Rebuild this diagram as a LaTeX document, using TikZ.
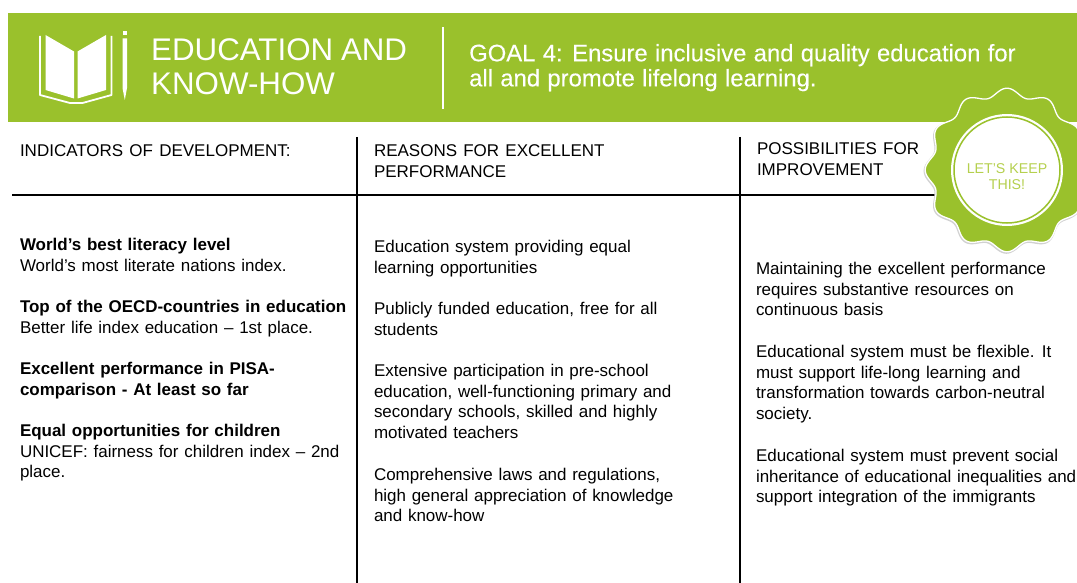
\documentclass[tikz,border=0pt]{standalone}
\usepackage{fontspec}
\setmainfont{Liberation Sans}
\newfontfamily\goalfont[FakeBold=0.25,WordSpace=1.1]{Liberation Sans}
\newfontfamily\titlefont[WordSpace=0.9]{Liberation Sans}
\definecolor{leaf}{HTML}{9AC12C}
\definecolor{leaftext}{HTML}{B5D04E}
\newcommand{\parafont}{\fontsize{16.97}{20.7}\selectfont\spaceskip 5.75pt\relax}
\newcommand{\headfont}{\fontsize{17}{20.7}\selectfont\spaceskip 6.2pt\relax}
\tikzset{
 px/.style={x=1pt,y=-1pt},
 para/.style={anchor=north west,inner sep=0pt,outer sep=0pt,align=left,text=black,font=\parafont},
 head/.style={para,font=\headfont},
 titleline/.style={anchor=base west,inner sep=0pt,text=white,font=\titlefont\fontsize{31.3}{34}\selectfont},
 goalline/.style={anchor=base west,inner sep=0pt,text=white,font=\goalfont\fontsize{23.85}{25}\selectfont},
 rule/.style={draw=black,line width=1.5pt},
 whitefill/.style={fill=white,draw=none},
}
\newcommand{\bld}[1]{{\bfseries #1}}
\newcommand{\badgeplot}{plot[domain=0:360,samples=241,smooth,variable=\t] ({1007+(77.8+4*cos(12*\t))*cos(\t)},{170+(77.8+4*cos(12*\t))*sin(\t)}) -- cycle}
\begin{document}
\begin{tikzpicture}[px]
\useasboundingbox (0,0) rectangle (1077,583);
\fill[white] (0,0) rectangle (1077,583);
% banner
\fill[leaf] (8,13) rectangle (1077,122);
% book icon
\fill[whitefill] (45.5,35) -- (74,51.5) -- (74,98.5) -- (45.5,90) -- cycle;
\fill[whitefill] (77.5,51.5) -- (106,35) -- (106,90) -- (77.5,98.5) -- cycle;
\draw[white,line width=1.8pt,line join=round] (40,36) -- (40,95) -- (70,103) -- (82.5,103) -- (111.5,95) -- (111.5,36);
\fill[whitefill] (122.5,31) rectangle (127,35);
\fill[whitefill] (122.5,38.5) -- (127,38.5) -- (127,88) -- (124.8,100) -- (122.5,88) -- cycle;
% titles
\node[titleline] (t1) at (151,61) {EDUCATION AND};
\node[titleline] (t2) at (151,95) {KNOW-HOW};
\coordinate (d1) at (443,27); \coordinate (d2) at (443,109);
\draw[white,line width=2.4pt] (d1) -- (d2);
\node[goalline] (g1) at (469,61.3) {GOAL 4: Ensure inclusive and quality education for};
\node[goalline] (g2) at (469,86.3) {all and promote lifelong learning.};
% table rules
\coordinate (h1) at (12,195); \coordinate (h2) at (940,195);
\coordinate (v1a) at (357,137); \coordinate (v1b) at (357,583);
\coordinate (v2a) at (740,137); \coordinate (v2b) at (740,583);
\draw[rule] (h1) -- (h2);
\draw[rule] (v1a) -- (v1b);
\draw[rule] (v2a) -- (v2b);
% column heads
\node[head] (c1) at (20,145) {INDICATORS OF DEVELOPMENT:};
\node[head] (c2) at (374,145) {REASONS FOR EXCELLENT\\PERFORMANCE};
\node[head] (c3) at (757,143) {POSSIBILITIES FOR\\IMPROVEMENT};
% col 1
\node[para] (a1) at (20,238.3) {\bld{World’s best literacy level}\\World’s most literate nations index.};
\node[para] (a2) at (20,300.3) {\bld{Top of the OECD-countries in education}\\Better life index education – 1st place.};
\node[para] (a3) at (20,362.3) {\bld{Excellent performance in PISA-}\\\bld{comparison - At least so far}};
\node[para] (a4) at (20,424.3) {\bld{Equal opportunities for children}\\UNICEF: fairness for children index – 2nd\\place.};
% col 2
\node[para] (b1) at (374,240.3) {Education system providing equal\\learning opportunities};
\node[para] (b2) at (374,302.3) {Publicly funded education, free for all\\students};
\node[para] (b3) at (374,364.3) {Extensive participation in pre-school\\education, well-functioning primary and\\secondary schools, skilled and highly\\motivated teachers};
\node[para] (b4) at (374,468.3) {Comprehensive laws and regulations,\\high general appreciation of knowledge\\and know-how};
% col 3
\node[para] (r1) at (756,262.3) {Maintaining the excellent performance\\requires substantive resources on\\continuous basis};
\node[para] (r2) at (756,345.3) {Educational system must be flexible. It\\must support life-long learning and\\transformation towards carbon-neutral\\society.};
\node[para] (r3) at (756,449.3) {Educational system must prevent social\\inheritance of educational inequalities and\\support integration of the immigrants};
% badge
\coordinate (bc) at (1007,170);
\begin{scope}
\clip (900,122) rectangle (1077,270);
\draw[black!18,line width=2pt,xshift=-0.6pt,yshift=-1pt] \badgeplot;
\end{scope}
\draw[fill=leaf,draw=white,line width=1.3pt,line join=round] \badgeplot;
\fill[white] (bc) circle (56);
\draw[leaf,line width=1.5pt] (bc) circle (53);
\node[anchor=center,inner sep=0pt,align=center,text=leaftext,font=\fontsize{14.2}{15.5}\selectfont] (bt) at (1007,176.5) {LET’S KEEP\\THIS!};
\end{tikzpicture}
\end{document}
